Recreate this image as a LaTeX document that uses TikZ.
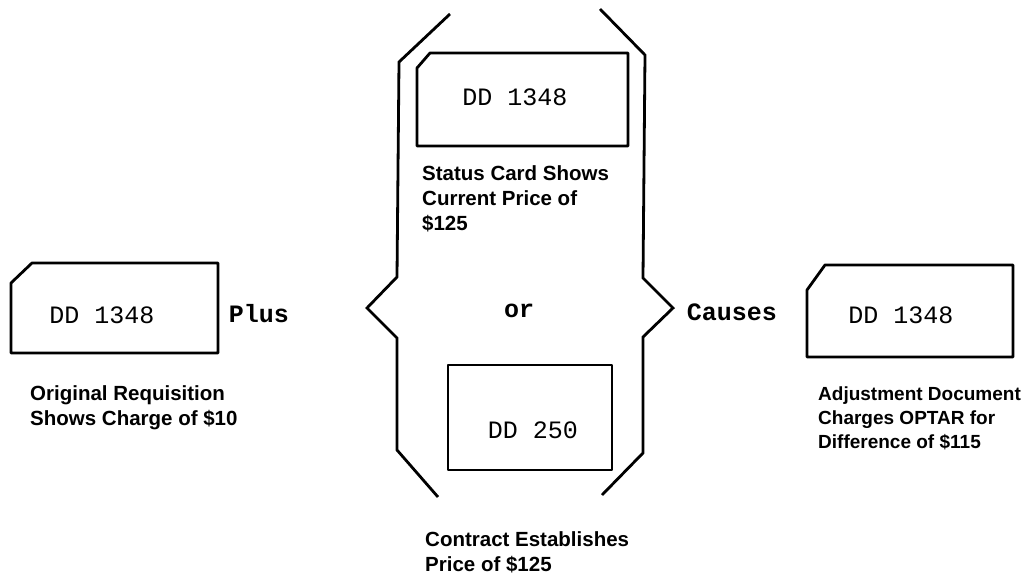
\documentclass[tikz,border=0pt]{standalone}
\usepackage{fontspec}
\setmainfont{Liberation Sans}
\setmonofont{Liberation Mono}
\usepackage{tikz}
\usetikzlibrary{positioning}

\begin{document}
\begin{tikzpicture}[
  x=1pt, y=-1pt,
  cardarea/.style={inner sep=0pt, outer sep=0pt, rectangle},
  cardline/.style={line width=2.8pt, line join=round},
  formno/.style={font=\ttfamily\fontsize{25}{28}\selectfont, anchor=base, inner sep=0pt},
  joinword/.style={font=\ttfamily\bfseries\fontsize{25}{28}\selectfont, anchor=base, inner sep=0pt},
  caption/.style={font=\bfseries\fontsize{20.5}{25}\selectfont, align=left, anchor=base west, inner sep=0pt},
  brace/.style={line width=2.8pt, line join=miter},
]
\useasboundingbox (0,0) rectangle (1029,579);
% cards
\node[cardarea, minimum width=207pt, minimum height=90pt] (req) at (114.5,308) {};
\node[cardarea, minimum width=211pt, minimum height=93pt] (status) at (522.5,99.5) {};
\node[cardarea, minimum width=164pt, minimum height=105pt] (contract) at (530,417.5) {};
\node[cardarea, minimum width=206pt, minimum height=92pt] (adjust) at (910,311) {};
\draw[cardline] ([yshift=-20pt]req.north west) -- ([xshift=21pt]req.north west) -- (req.north east) -- (req.south east) -- (req.south west) -- cycle;
\draw[cardline] ([yshift=-15pt]status.north west) -- ([xshift=13pt]status.north west) -- (status.north east) -- (status.south east) -- (status.south west) -- cycle;
\draw[cardline] (contract.north west) rectangle (contract.south east);
\draw[cardline] ([yshift=-25pt]adjust.north west) -- ([xshift=18pt]adjust.north west) -- (adjust.north east) -- (adjust.south east) -- (adjust.south west) -- cycle;
% form numbers
\node[formno] (reqno) at (102,323) {DD 1348};
\node[formno] (statusno) at (515,105) {DD 1348};
\node[formno] (contractno) at (533,438) {DD 250};
\node[formno] (adjustno) at (901,323) {DD 1348};
% words between
\node[joinword] (plus) at (259,322) {Plus};
\node[joinword] (or) at (519,317) {or};
\node[joinword] (causes) at (732,320) {Causes};
% captions (anchored on the last line)
\node[caption] (reqcap) at (30,425) {Original Requisition\\Shows Charge of \$10};
\node[caption] (statuscap) at (422,230) {Status Card Shows\\Current Price of\\\$125};
\node[caption] (contractcap) at (425,571) {Contract Establishes\\Price of \$125};
\node[caption, font=\bfseries\fontsize{19}{24}\selectfont] (adjustcap) at (818,448) {Adjustment Document\\Charges OPTAR for\\Difference of \$115};
% braces
\draw[brace] (450,14) -- (399,62) -- (397,277) -- (367,308) -- (397,338) -- (397,450) -- (438,497);
\draw[brace] (600,9) -- (645,55) -- (643,278) -- (673,308) -- (643,337) -- (643,453) -- (602,495);
\end{tikzpicture}
\end{document}
